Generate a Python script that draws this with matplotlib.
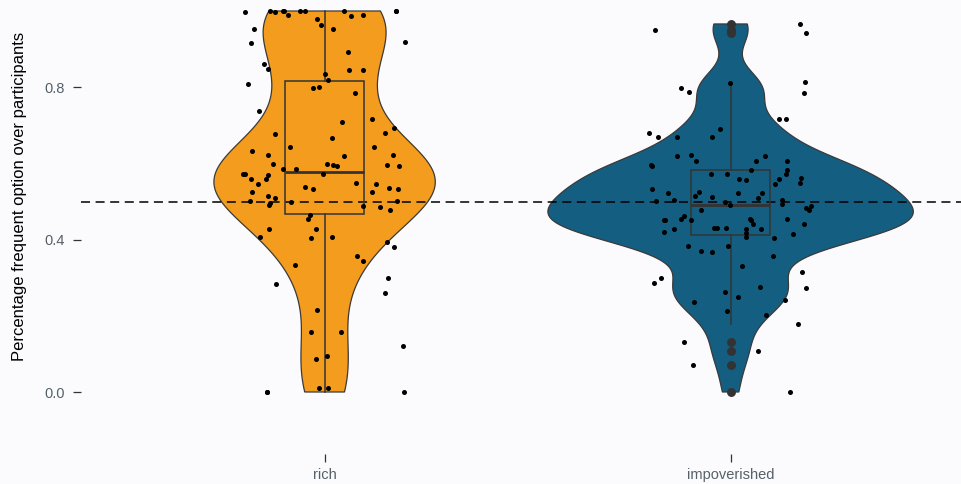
import numpy as np
import matplotlib
matplotlib.use("Agg")
import matplotlib.pyplot as plt

plt.rcParams['font.family'] = ['Liberation Sans', 'DejaVu Sans']
plt.rcParams['lines.scale_dashes'] = False

categories = ["rich", "impoverished"]
fill_colors = ["#F39C1E", "#145E82"]

# proportion of frequent-option choices per participant (as plotted, with jitter offsets)
rich_values = [
    0.998, 1.000, 0.998, 1.000, 1.000, 0.990, 1.000, 1.000, 1.000, 0.988,
    0.990, 1.000, 1.000, 0.979, 0.964, 0.954, 0.953, 0.916, 0.919, 0.892,
    0.860, 0.848, 0.845, 0.844, 0.835, 0.820, 0.809, 0.798, 0.800, 0.786,
    0.738, 0.717, 0.709, 0.694, 0.678, 0.667, 0.681, 0.642, 0.633, 0.623,
    0.619, 0.644, 0.622, 0.598, 0.586, 0.585, 0.598, 0.597, 0.594, 0.597,
    0.594, 0.572, 0.571, 0.560, 0.547, 0.560, 0.570, 0.572, 0.549, 0.547,
    0.535, 0.534, 0.539, 0.533, 0.524, 0.514, 0.510, 0.501, 0.490, 0.495,
    0.499, 0.524, 0.501, 0.487, 0.486, 0.478, 0.465, 0.454, 0.429, 0.427,
    0.406, 0.405, 0.406, 0.393, 0.380, 0.357, 0.344, 0.333, 0.298, 0.284,
    0.261, 0.214, 0.157, 0.157, 0.121, 0.086, 0.094, 0.000, 0.000, 0.011,
    0.010, 0.000,
]
rich_jitter = [
    -0.195, -0.135, -0.123, -0.103, -0.101, -0.089, -0.061, -0.048, 0.048, 0.064,
    0.095, 0.175, 0.177, -0.019, -0.008, 0.020, -0.174, -0.182, 0.197, 0.057,
    -0.150, -0.140, 0.060, 0.095, 0.000, 0.009, -0.189, -0.029, -0.014, 0.075,
    -0.162, 0.116, 0.044, 0.172, -0.121, 0.019, 0.149, -0.085, -0.180, -0.139,
    0.049, 0.121, 0.169, -0.126, -0.102, -0.071, 0.007, 0.021, 0.030, 0.153,
    0.183, -0.200, -0.197, -0.182, -0.163, -0.145, -0.139, -0.005, 0.078, 0.126,
    0.158, 0.182, -0.049, -0.028, -0.178, -0.139, -0.121, -0.184, -0.138, -0.135,
    -0.083, 0.117, 0.178, 0.095, 0.137, 0.161, -0.037, -0.041, -0.136, -0.020,
    -0.158, -0.034, 0.017, 0.153, 0.172, 0.080, 0.095, -0.074, 0.155, -0.120,
    0.149, -0.019, -0.033, 0.041, 0.194, -0.022, 0.007, -0.143, -0.142, -0.014,
    0.008, 0.196,
]

impoverished_values = [
    0.951, 0.966, 0.941, 0.813, 0.785, 0.798, 0.787, 0.810, 0.717, 0.717,
    0.679, 0.670, 0.669, 0.690, 0.669, 0.619, 0.622, 0.606, 0.597, 0.594,
    0.606, 0.619, 0.607, 0.583, 0.572, 0.547, 0.559, 0.562, 0.549, 0.572,
    0.573, 0.560, 0.557, 0.583, 0.534, 0.523, 0.503, 0.502, 0.514, 0.525,
    0.511, 0.499, 0.490, 0.523, 0.523, 0.510, 0.503, 0.494, 0.484, 0.488,
    0.478, 0.451, 0.451, 0.419, 0.428, 0.454, 0.463, 0.451, 0.477, 0.431,
    0.430, 0.430, 0.455, 0.451, 0.440, 0.427, 0.427, 0.417, 0.408, 0.405,
    0.454, 0.440, 0.416, 0.383, 0.371, 0.368, 0.383, 0.357, 0.331, 0.300,
    0.285, 0.316, 0.272, 0.276, 0.262, 0.249, 0.237, 0.241, 0.213, 0.203,
    0.178, 0.131, 0.108, 0.071, 0.000,
]
impoverished_jitter = [
    -0.187, 0.170, 0.185, 0.183, 0.180, -0.122, -0.103, -0.002, 0.119, 0.136,
    -0.200, -0.178, -0.133, -0.026, -0.045, -0.131, -0.098, -0.084, -0.195, -0.193,
    0.063, 0.084, 0.140, 0.138, 0.137, 0.110, 0.119, 0.173, 0.171, -0.049,
    -0.010, 0.020, 0.037, 0.050, -0.193, -0.155, -0.139, -0.183, -0.087, -0.078,
    -0.047, -0.014, -0.002, 0.017, 0.078, 0.068, 0.127, 0.126, 0.185, 0.197,
    0.193, -0.165, -0.161, -0.164, -0.139, -0.122, -0.116, -0.097, -0.072, -0.041,
    -0.033, -0.011, 0.047, 0.051, 0.056, 0.076, 0.038, 0.038, 0.037, 0.106,
    0.140, 0.181, 0.153, -0.104, -0.073, -0.047, -0.007, 0.104, 0.027, -0.172,
    -0.189, 0.177, 0.185, 0.073, -0.013, 0.018, -0.091, 0.133, -0.010, 0.088,
    0.166, -0.116, 0.067, -0.092, 0.147,
]

reference_line = 0.5
y_ticks = [0.0, 0.4, 0.8]
y_tick_labels = ["0.0", "0.4", "0.8"]
y_label = "Percentage frequent option over participants"

groups = [np.array(rich_values), np.array(impoverished_values)]
jitters = [np.array(rich_jitter), np.array(impoverished_jitter)]
positions = np.arange(1, len(categories) + 1)


def bw_nrd0(x):
    sd = np.std(x, ddof=1)
    q75, q25 = np.percentile(x, [75, 25])
    lo = min(sd, (q75 - q25) / 1.34)
    return 0.9 * lo * len(x) ** -0.2


def kde(x, n=512):
    bw = bw_nrd0(x)
    grid = np.linspace(x.min(), x.max(), n)
    z = (grid[:, None] - x[None, :]) / bw
    dens = np.exp(-0.5 * z ** 2).sum(axis=1) / (len(x) * bw * np.sqrt(2 * np.pi))
    return grid, dens


densities = [kde(g) for g in groups]
max_dens = max(d.max() for _, d in densities)

W, H = 962, 484
fig = plt.figure(figsize=(W / 100, H / 100), dpi=100, facecolor="#FBFBFD")
left_px, bottom_px = 81, 454
ax = fig.add_axes([left_px / W, (H - bottom_px) / H, (W - left_px) / W, bottom_px / H])
ax.set_facecolor("#FBFBFD")

# violins (area-scaled, trimmed to the data range)
for pos, (grid, dens), col in zip(positions, densities, fill_colors):
    half = dens / max_dens * 0.45
    xs = np.concatenate([pos - half, (pos + half)[::-1]])
    ys = np.concatenate([grid, grid[::-1]])
    ax.fill(xs, ys, facecolor=col, edgecolor="#3a3a3a", linewidth=0.9, zorder=1)

ax.axhline(reference_line, color="black", linewidth=1.1, dashes=(6.5, 4), zorder=2)

# boxplots
ax.boxplot(
    groups, positions=positions, widths=0.195, whis=1.5, showcaps=False,
    patch_artist=True, manage_ticks=False,
    boxprops=dict(facecolor="none", edgecolor="#333333", linewidth=1.1),
    whiskerprops=dict(color="#333333", linewidth=1.1),
    medianprops=dict(color="#333333", linewidth=2.0),
    flierprops=dict(marker="o", markersize=5.4, markerfacecolor="#333333",
                    markeredgecolor="#333333", alpha=1.0),
    zorder=3,
)

# jittered participant points
for pos, g, j in zip(positions, groups, jitters):
    ax.scatter(pos + j, g, s=13, color="black", linewidths=0, zorder=4)

ax.set_xlim(0.4, 0.4 + (W - left_px) / 406)
ax.set_ylim((392 - bottom_px) / 381, 392 / 381)

for s in ax.spines.values():
    s.set_visible(False)
ax.set_yticks(y_ticks)
ax.set_yticklabels(y_tick_labels)
ax.set_xticks(positions)
ax.set_xticklabels(categories)
ax.tick_params(axis="both", length=5.8, width=0.9, color="#333333",
               labelcolor="#556068", labelsize=10.5)
ax.tick_params(axis="y", pad=6)
ax.tick_params(axis="x", pad=4)

fig.text(20 / W, 1 - 196 / H, y_label, rotation=90, ha="center", va="center",
         fontsize=12, color="black")

fig.savefig("out.png", dpi=100, facecolor=fig.get_facecolor())
